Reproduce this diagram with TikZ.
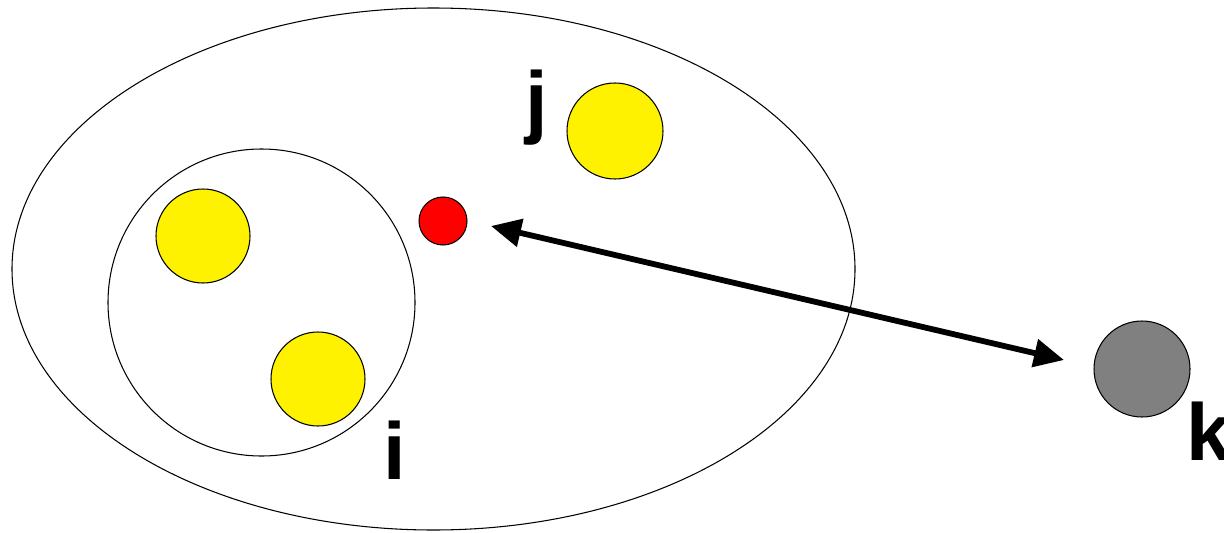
\documentclass[tikz,border=0pt]{standalone}
\usepackage{fontspec}
\setmainfont{Liberation Sans}
\usetikzlibrary{arrows.meta,shapes.geometric}

\begin{document}
\begin{tikzpicture}[
  ball/.style={circle, draw, line width=0.6pt, inner sep=0pt, minimum size=#1},
  lbl/.style={anchor=base, inner sep=0pt, font=\fontsize{46}{46}\selectfont\bfseries},
  link/.style={{Triangle[length=6mm, width=5.5mm]}-{Triangle[length=6mm, width=5.5mm]}, line width=3.3pt}
]
\useasboundingbox (0,0) rectangle (24.48,10.64);

\node[ellipse, draw, line width=0.6pt, inner sep=0pt, minimum width=16.86cm, minimum height=10.44cm] (outer) at (8.67,5.26) {};
\node[ball=6.14cm] (group) at (5.23,4.59) {};

\node[ball=1.88cm, fill=yellow] (a) at (4.06,5.92) {};
\node[ball=1.88cm, fill=yellow] (b) at (6.36,3.06) {};
\node[ball=1.92cm, fill=yellow] (j) at (12.30,8.02) {};
\node[ball=0.96cm, fill=red] (c) at (8.86,6.22) {};
\node[ball=1.92cm, fill=gray] (k) at (22.84,3.26) {};

\node[lbl] (jlabel) at (10.74,8.08) {j};
\node[lbl] (ilabel) at (7.90,1.06) {i};
\node[lbl] (klabel) at (24.18,1.44) {k};

\coordinate (near) at (9.82,6.12);
\coordinate (far) at (21.28,3.44);
\draw[link] (near) -- (far);

\end{tikzpicture}
\end{document}
